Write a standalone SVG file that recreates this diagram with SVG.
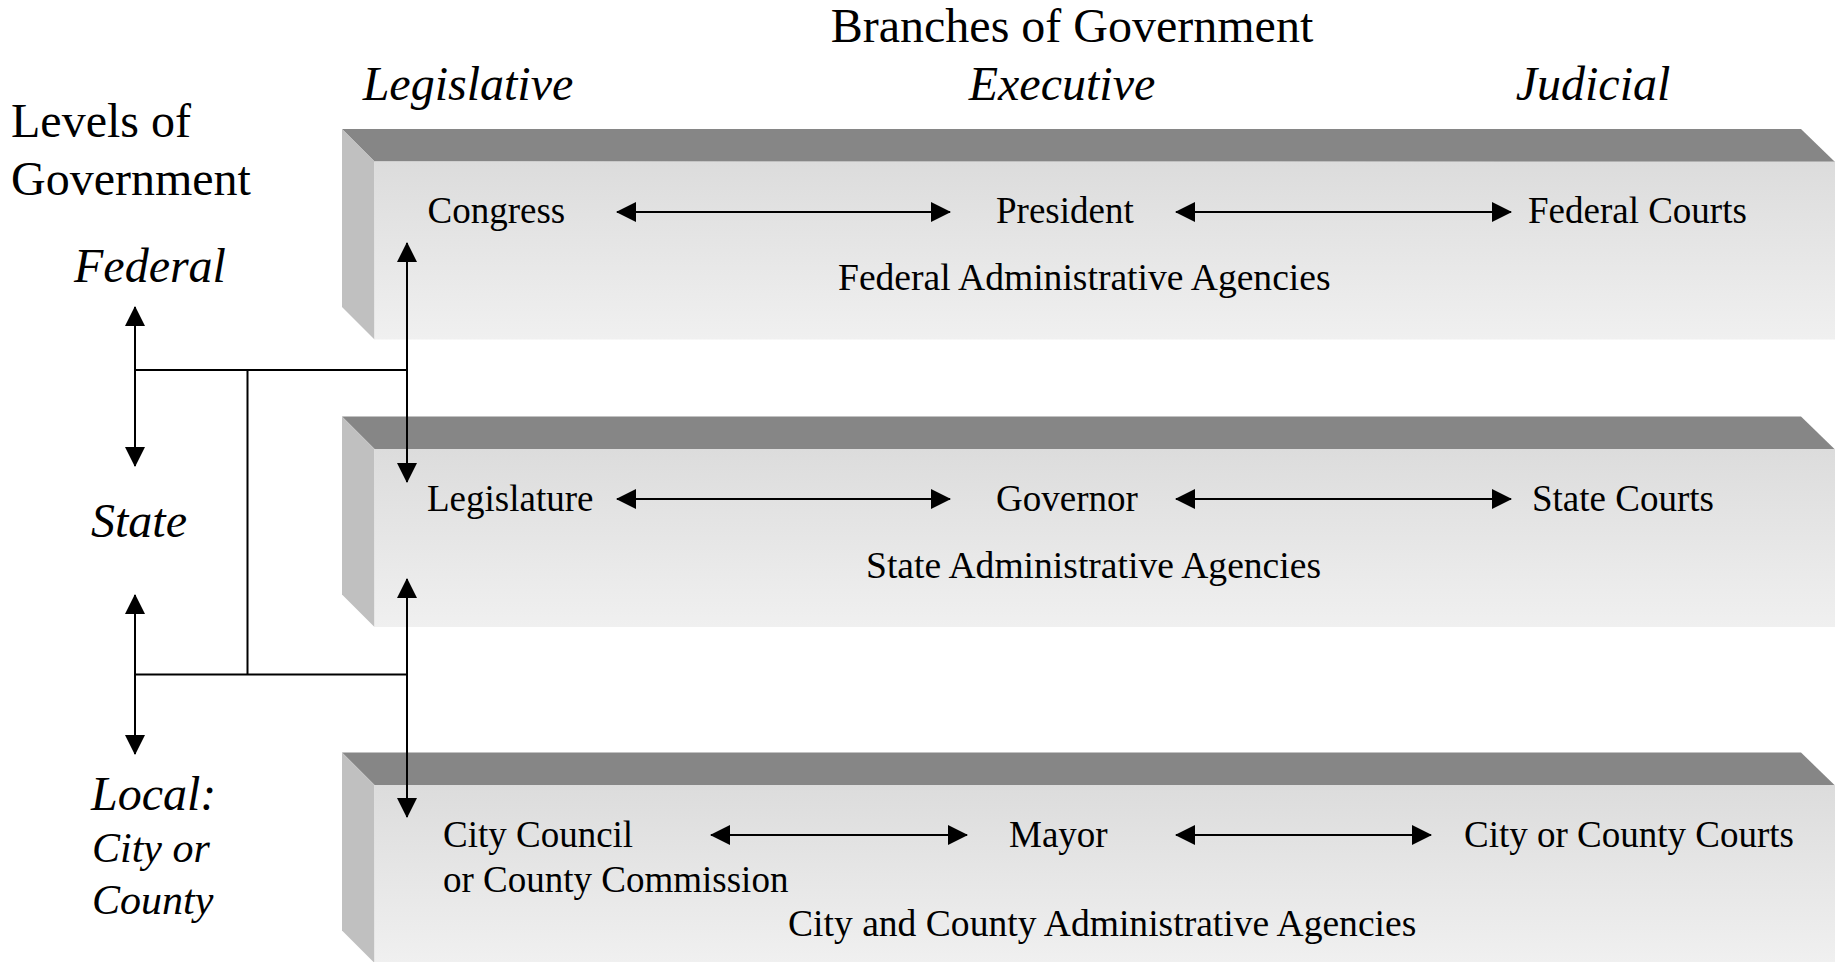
<svg xmlns="http://www.w3.org/2000/svg" width="1835" height="962" viewBox="0 0 1835 962">
<style>
.t{font-family:"Liberation Serif","Times New Roman",serif;fill:#000}
.h{font-size:48px}
.s{font-size:42px}
.i{font-style:italic}
.l{font-size:37px}
.g{font-size:37.6px}
.top{fill:#868686}
.side{fill:#c0c0c0}
.front{fill:url(#fg)}
.c{stroke:#000;stroke-width:2;fill:none}
.a{marker-start:url(#ah);marker-end:url(#ah)}
</style>
<defs>
<linearGradient id="fg" x1="0" y1="0" x2="0" y2="1">
<stop offset="0" stop-color="#dcdcdc"/>
<stop offset="1" stop-color="#f0f0f0"/>
</linearGradient>
<marker id="ah" viewBox="0 0 20 20" refX="19" refY="10" markerWidth="20" markerHeight="20" markerUnits="userSpaceOnUse" orient="auto-start-reverse">
<path d="M0,0 L20,10 L0,20 z" fill="#000"/>
</marker>
</defs>
<rect width="1835" height="962" fill="#fff"/>

<g id="headers">
<text class="t h" x="1072" y="42" text-anchor="middle">Branches of Government</text>
<text class="t h i" x="468" y="100" text-anchor="middle">Legislative</text>
<text class="t h i" x="1062" y="100" text-anchor="middle">Executive</text>
<text class="t h i" x="1593" y="100" text-anchor="middle">Judicial</text>
<text class="t h" x="11" y="137">Levels of</text>
<text class="t h" x="11" y="195">Government</text>
</g>

<g id="level-federal"><text class="t h i" x="74" y="282">Federal</text></g>
<g id="level-state"><text class="t h i" x="91" y="537">State</text></g>
<g id="level-local">
<text class="t h i" x="91" y="810">Local:</text>
<text class="t s i" x="92" y="862">City or</text>
<text class="t s i" x="92" y="914">County</text>
</g>

<g id="box-federal">
<polygon class="top" points="342,129 1801,129 1835,162 374.5,161.5"/>
<polygon class="side" points="342,129 374.5,161.5 374.5,339.5 342,307"/>
<rect class="front" x="374.5" y="161.5" width="1461" height="178"/>
</g>
<g id="box-state">
<polygon class="top" points="342,416.5 1801,416.5 1835,449.5 374.5,449"/>
<polygon class="side" points="342,416.5 374.5,449 374.5,627 342,594.5"/>
<rect class="front" x="374.5" y="449" width="1461" height="178"/>
</g>
<g id="box-local">
<polygon class="top" points="342,752.5 1801,752.5 1835,785.5 374.5,785"/>
<polygon class="side" points="342,752.5 374.5,785 374.5,963 342,930.5"/>
<rect class="front" x="374.5" y="785" width="1461" height="178"/>
</g>

<g id="node-congress"><text class="t l" x="427.5" y="223">Congress</text></g>
<g id="node-president"><text class="t l" x="996" y="223">President</text></g>
<g id="node-federal-courts"><text class="t l" x="1528" y="223">Federal Courts</text></g>
<g id="node-federal-agencies"><text class="t g" x="838" y="290">Federal Administrative Agencies</text></g>

<g id="node-legislature"><text class="t l" x="427" y="511">Legislature</text></g>
<g id="node-governor"><text class="t l" x="996" y="511">Governor</text></g>
<g id="node-state-courts"><text class="t l" x="1532" y="511">State Courts</text></g>
<g id="node-state-agencies"><text class="t g" x="866" y="578">State Administrative Agencies</text></g>

<g id="node-city-council">
<text class="t l" x="443" y="847">City Council</text>
<text class="t l" x="443" y="892">or County Commission</text>
</g>
<g id="node-mayor"><text class="t l" x="1009" y="847">Mayor</text></g>
<g id="node-local-courts"><text class="t l" x="1464" y="847">City or County Courts</text></g>
<g id="node-local-agencies"><text class="t g" x="788" y="936">City and County Administrative Agencies</text></g>

<g id="connectors">
<line class="c a" x1="617" y1="212" x2="950" y2="212"/>
<line class="c a" x1="1176" y1="212" x2="1511" y2="212"/>
<line class="c a" x1="617" y1="499" x2="950" y2="499"/>
<line class="c a" x1="1176" y1="499" x2="1511" y2="499"/>
<line class="c a" x1="711" y1="835" x2="967" y2="835"/>
<line class="c a" x1="1176" y1="835" x2="1431" y2="835"/>

<line class="c a" x1="135" y1="307" x2="135" y2="466"/>
<line class="c a" x1="135" y1="595" x2="135" y2="754"/>
<line class="c a" x1="407" y1="243" x2="407" y2="482"/>
<line class="c a" x1="407" y1="579" x2="407" y2="817"/>
<line class="c" x1="135" y1="370" x2="407" y2="370"/>
<line class="c" x1="135" y1="674.5" x2="407" y2="674.5"/>
<line class="c" x1="247.5" y1="370" x2="247.5" y2="674.5"/>
</g>
</svg>
